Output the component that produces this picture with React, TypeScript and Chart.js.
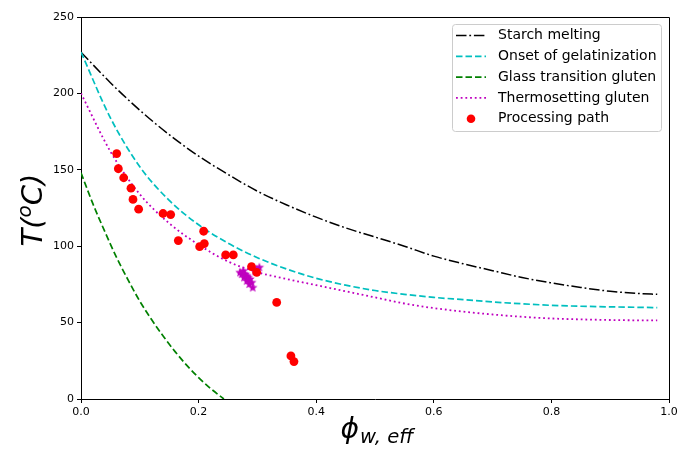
import React, { useEffect, useRef } from "react";
import { Chart, registerables } from "chart.js";

Chart.register(...registerables);

// ---- data ----
const CURVE_X = [0, 0.05, 0.1, 0.15, 0.2, 0.25, 0.3, 0.35, 0.4, 0.45, 0.5, 0.55, 0.6, 0.65, 0.7, 0.75, 0.8, 0.85, 0.9, 0.95, 0.98];
const STARCH_T = [227, 207, 189, 173, 159, 147, 136, 127, 119, 112, 106, 100, 93.5, 88.5, 84, 79.5, 76, 73, 70.5, 69, 68.5];
const ONSET_T = [227, 184, 152, 130, 114, 102, 92.5, 85, 79, 74.5, 71, 68.5, 66.5, 65, 63.5, 62.3, 61.3, 60.7, 60.3, 60, 59.8];
const THERMO_T = [200, 162, 134, 115, 101, 90, 83, 78.5, 74.5, 70.5, 66.5, 62.5, 59.5, 57.2, 55.3, 53.8, 52.7, 52.1, 51.7, 51.5, 51.5];
const GLASS_X = [0, 0.02, 0.04, 0.06, 0.08, 0.1, 0.12, 0.14, 0.16, 0.18, 0.2, 0.22, 0.243];
const GLASS_T = [148, 128, 110, 93, 78, 64, 52, 41, 31, 22, 14, 7, 0];
const PATH_X = [0.0607, 0.0635, 0.0726, 0.085, 0.0884, 0.098, 0.1395, 0.1525, 0.1655, 0.2018, 0.2097, 0.2086, 0.246, 0.259, 0.29, 0.2988, 0.3328, 0.357, 0.3622];
const PATH_T = [160.6, 150.7, 144.8, 138, 130.6, 124.2, 121.4, 120.7, 103.7, 99.7, 101.7, 109.8, 94.3, 94.3, 86.6, 82.9, 63.2, 28.2, 24.5];
const STAR_X = [0.2704, 0.2733, 0.276, 0.2772, 0.279, 0.2818, 0.2818, 0.2845, 0.2862, 0.2874, 0.2903, 0.292, 0.296, 0.2988, 0.3033];
const STAR_T = [82.9, 81.8, 84, 79.6, 81.8, 80.7, 77.4, 79.6, 75.3, 78.5, 76.3, 73, 84, 85.1, 86.2];
const X_TICKS = [0, 0.2, 0.4, 0.6, 0.8, 1.0];
const Y_TICKS = [0, 50, 100, 150, 200, 250];
const LABELS = ["Starch melting", "Onset of gelatinization", "Glass transition gluten", "Thermosetting gluten", "Processing path"];

const zip = (xs: number[], ys: number[]) => xs.map((x, i) => ({ x, y: ys[i] }));

const FONT = '"DejaVu Sans", sans-serif';

function makeStar(): HTMLCanvasElement {
  const c = document.createElement("canvas");
  c.width = 12;
  c.height = 12;
  const g = c.getContext("2d")!;
  g.fillStyle = "#bf00bf";
  g.beginPath();
  const cx = 6, cy = 6.3, ro = 5, ri = 2.1;
  for (let i = 0; i < 10; i++) {
    const r = i % 2 === 0 ? ro : ri;
    const a = -Math.PI / 2 + (i * Math.PI) / 5;
    const px = cx + r * Math.cos(a);
    const py = cy + r * Math.sin(a);
    if (i === 0) g.moveTo(px, py);
    else g.lineTo(px, py);
  }
  g.closePath();
  g.fill();
  return c;
}

const decor = {
  id: "decor",
  afterDraw(chart: any) {
    const ctx: CanvasRenderingContext2D = chart.ctx;
    const a = chart.chartArea;
    ctx.save();
    // top & right spines
    ctx.strokeStyle = "#000";
    ctx.lineWidth = 1;
    ctx.setLineDash([]);
    ctx.beginPath();
    ctx.moveTo(Math.round(a.left) - 0.5, Math.round(a.top) + 0.5);
    ctx.lineTo(Math.round(a.right) + 0.5, Math.round(a.top) + 0.5);
    ctx.lineTo(Math.round(a.right) + 0.5, Math.round(a.bottom) + 0.5);
    ctx.stroke();

    // legend
    const bx = 452.5, by = 24.5, bw = 209, bh = 107;
    ctx.beginPath();
    (ctx as any).roundRect(bx, by, bw, bh, 3);
    ctx.fillStyle = "rgba(255,255,255,0.8)";
    ctx.fill();
    ctx.strokeStyle = "#cccccc";
    ctx.stroke();
    const items = chart.data.datasets.filter((d: any) => d.label);
    items.forEach((d: any, i: number) => {
      const y = 35.5 + i * 20.8;
      if (d.showLine) {
        ctx.strokeStyle = d.borderColor;
        ctx.lineWidth = d.borderWidth;
        ctx.setLineDash(d.borderDash || []);
        ctx.beginPath();
        ctx.moveTo(456, y);
        ctx.lineTo(486, y);
        ctx.stroke();
        ctx.setLineDash([]);
      } else {
        ctx.fillStyle = d.backgroundColor;
        ctx.beginPath();
        ctx.arc(471, y, 4.3, 0, Math.PI * 2);
        ctx.fill();
      }
      ctx.fillStyle = "#000";
      ctx.font = `14px ${FONT}`;
      ctx.textBaseline = "middle";
      ctx.textAlign = "left";
      ctx.fillText(d.label, 498, y);
    });

    // x title: phi_{w,eff}
    ctx.fillStyle = "#000";
    ctx.textBaseline = "alphabetic";
    ctx.textAlign = "left";
    const mainF = `italic 28px ${FONT}`;
    const subF = `italic 19.6px ${FONT}`;
    ctx.font = mainF;
    const phi = "\u03D5";
    const wPhi = ctx.measureText(phi).width;
    ctx.font = subF;
    const sub = "w, eff";
    const wSub = ctx.measureText(sub).width;
    const cx = (a.left + a.right) / 2 + 2;
    const x0 = cx - (wPhi + 1 + wSub) / 2;
    ctx.font = mainF;
    ctx.fillText(phi, x0, 438);
    ctx.font = subF;
    ctx.fillText(sub, x0 + wPhi + 1, 443);

    // y title: T(^oC)
    ctx.translate(41.5, (a.top + a.bottom) / 2 + 2);
    ctx.rotate(-Math.PI / 2);
    const yF = `italic 29px ${FONT}`;
    const supF = `italic 20px ${FONT}`;
    ctx.font = yF;
    const w1 = ctx.measureText("T(").width;
    const w3 = ctx.measureText("C)").width;
    ctx.font = supF;
    const w2 = ctx.measureText("o").width;
    const s = -(w1 + w2 + w3) / 2;
    ctx.font = yF;
    ctx.fillText("T(", s, 0);
    ctx.font = supF;
    ctx.fillText("o", s + w1, -11);
    ctx.font = yF;
    ctx.fillText("C)", s + w1 + w2, 0);
    ctx.restore();
  },
};

export default function App() {
  const ref = useRef<HTMLCanvasElement>(null);
  useEffect(() => {
    document.body.style.margin = "0";
    const canvas = ref.current!;
    const starImg = makeStar();
    const lineBase = { showLine: true, pointRadius: 0, pointHoverRadius: 0, fill: false, cubicInterpolationMode: "monotone" };
    const chart = new Chart(canvas, {
      type: "scatter",
      data: {
        datasets: [
          { ...lineBase, label: LABELS[0], data: zip(CURVE_X, STARCH_T), borderColor: "#000000", backgroundColor: "#000000", borderWidth: 1.5, borderDash: [10.5, 2.8, 1.8, 2.8], order: 5 },
          { ...lineBase, label: LABELS[1], data: zip(CURVE_X, ONSET_T), borderColor: "#00bfbf", backgroundColor: "#00bfbf", borderWidth: 1.7, borderDash: [6.5, 3], order: 4 },
          { ...lineBase, label: LABELS[2], data: zip(GLASS_X, GLASS_T), borderColor: "#008000", backgroundColor: "#008000", borderWidth: 1.7, borderDash: [6.5, 3], order: 3 },
          { ...lineBase, label: LABELS[3], data: zip(CURVE_X, THERMO_T), borderColor: "#bf00bf", backgroundColor: "#bf00bf", borderWidth: 1.8, borderDash: [1.8, 2.9], order: 2 },
          { label: LABELS[4], data: zip(PATH_X, PATH_T), showLine: false, pointRadius: 4.4, pointHoverRadius: 4.4, backgroundColor: "#ff0000", borderColor: "#ff0000", borderWidth: 0, order: 0 },
          { label: "", data: zip(STAR_X, STAR_T), showLine: false, pointStyle: starImg as any, pointRadius: 5, backgroundColor: "#bf00bf", borderColor: "#bf00bf", order: 1 },
        ] as any,
      },
      options: {
        animation: false,
        responsive: false,
        devicePixelRatio: 1,
        layout: { padding: { top: 17, right: 23, left: 0, bottom: 0 } },
        plugins: { legend: { display: false }, tooltip: { enabled: false } },
        scales: {
          x: {
            type: "linear",
            min: 0,
            max: 1,
            afterBuildTicks: (s: any) => { s.ticks = X_TICKS.map((v) => ({ value: v })); },
            afterFit: (s: any) => { s.height = 51; },
            ticks: { font: { family: FONT, size: 11 }, color: "#000", padding: 3, maxRotation: 0, callback: (v: any) => Number(v).toFixed(1) },
            grid: { display: true, drawOnChartArea: false, drawTicks: true, tickLength: 4, color: "#000" },
            border: { display: true, color: "#000", width: 1 },
          },
          y: {
            type: "linear",
            min: 0,
            max: 250,
            afterBuildTicks: (s: any) => { s.ticks = Y_TICKS.map((v) => ({ value: v })); },
            afterFit: (s: any) => { s.width = 81; },
            ticks: { font: { family: FONT, size: 11 }, color: "#000", padding: 3, callback: (v: any) => String(v) },
            grid: { display: true, drawOnChartArea: false, drawTicks: true, tickLength: 4, color: "#000" },
            border: { display: true, color: "#000", width: 1 },
          },
        },
      } as any,
      plugins: [decor],
    });
    return () => chart.destroy();
  }, []);
  return (
    <div style={{ width: 692, height: 450 }}>
      <canvas ref={ref} width={692} height={450} style={{ display: "block" }} />
    </div>
  );
}
